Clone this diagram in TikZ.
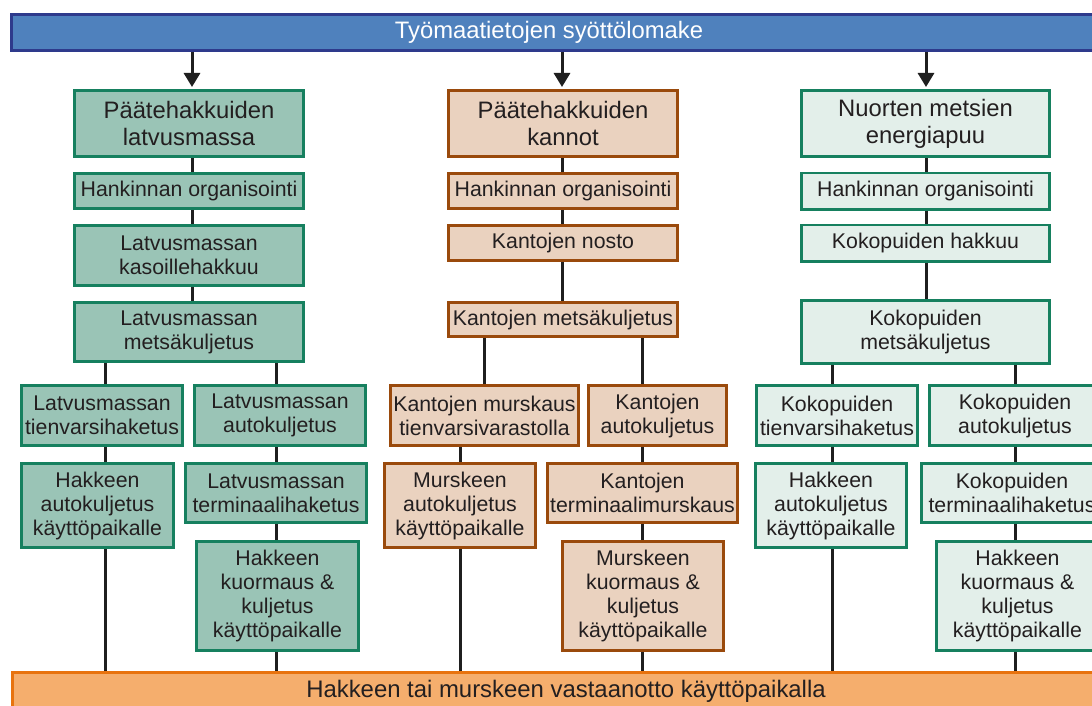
\documentclass[tikz,border=0pt]{standalone}
\usepackage{fontspec}
\setmainfont{Liberation Sans}
\usetikzlibrary{arrows.meta}
\definecolor{tblue}{HTML}{4F81BD}
\definecolor{tblueline}{HTML}{2E3A8C}
\definecolor{gdark}{HTML}{9AC4B6}
\definecolor{gline}{HTML}{16805F}
\definecolor{glight}{HTML}{E3EFEA}
\definecolor{tanfill}{HTML}{EAD2BF}
\definecolor{brownline}{HTML}{9A4A0C}
\definecolor{orfill}{HTML}{F5AE6D}
\definecolor{orline}{HTML}{E8730E}
\definecolor{txt}{HTML}{231F20}
\begin{document}
\begin{tikzpicture}[x=1pt,y=-1pt,
  bx/.style={draw, line width=2.6pt, align=center, inner sep=0pt, text=txt,
    font=\fontsize{21.3}{24}\selectfont},
  sz/.style 2 args={minimum width={#1pt-2.6pt}, minimum height={#2pt-2.6pt}},
  ga/.style={bx, fill=gdark, draw=gline},
  tb/.style={bx, fill=tanfill, draw=brownline},
  gl/.style={bx, fill=glight, draw=gline},
  hd/.style={font=\fontsize{23.8}{27}\selectfont},
  ln/.style={line width=3pt, draw=black!88},
  arr/.style={ln, -{Triangle[length=14pt,width=16pt]}, shorten >=2pt},
  bar/.style={draw, line width=2.6pt, inner sep=0pt}
]
\path[use as bounding box] (0,0) rectangle (1092,706);
\clip (0,0) rectangle (1092,706);
\fill[white] (0,0) rectangle (1092,706);

% bars
\node[bar, fill=tblue, draw=tblueline, text=white, font=\fontsize{23.8}{27}\selectfont,
  minimum width=1087.4pt, minimum height=36.4pt] (top) at (555,32.5)
  {Työmaatietojen syöttölomake\hspace*{12pt}};
\node[bar, fill=orfill, draw=orline, text=txt, font=\fontsize{23.9}{27}\selectfont,
  minimum width=1086.4pt, minimum height=37.4pt] (bot) at (555.5,691)
  {\hspace*{21pt}Hakkeen tai murskeen vastaanotto käyttöpaikalla};

% column 1
\node[ga, hd, sz={232}{69}] (A0) at (189,123.5) {Päätehakkuiden\\latvusmassa};
\node[ga, sz={232}{38}] (A1) at (189,191) {Hankinnan organisointi};
\node[ga, sz={232}{63}] (A2) at (189,255.5) {Latvusmassan\\kasoillehakkuu};
\node[ga, sz={232}{62}] (A3) at (189,332) {Latvusmassan\\metsäkuljetus};
\node[ga, sz={164}{63}] (A4) at (102,415.5) {Latvusmassan\\tienvarsihaketus};
\node[ga, sz={174}{63}] (A5) at (280,415.5) {Latvusmassan\\autokuljetus};
\node[ga, sz={155}{87}] (A6) at (97.5,505.5) {Hakkeen\\autokuljetus\\käyttöpaikalle};
\node[ga, sz={184}{62}] (A7) at (276,493) {Latvusmassan\\terminaalihaketus};
\node[ga, sz={165}{112}] (A8) at (277.5,596) {Hakkeen\\kuormaus \&\\kuljetus\\käyttöpaikalle};

% column 2
\node[tb, hd, sz={232}{69}] (B0) at (563,123.5) {Päätehakkuiden\\kannot};
\node[tb, sz={232}{38}] (B1) at (563,191) {Hankinnan organisointi};
\node[tb, sz={232}{38}] (B2) at (563,243) {Kantojen nosto};
\node[tb, sz={232}{37}] (B3) at (563,319.5) {Kantojen metsäkuljetus};
\node[tb, sz={191}{63}] (B4) at (484.5,415.5) {Kantojen murskaus\\tienvarsivarastolla};
\node[tb, sz={141}{63}] (B5) at (657.5,415.5) {Kantojen\\autokuljetus};
\node[tb, sz={154}{87}] (B6) at (460,505.5) {Murskeen\\autokuljetus\\käyttöpaikalle};
\node[tb, sz={193}{62}] (B7) at (642.5,493) {Kantojen\\terminaalimurskaus};
\node[tb, sz={164}{112}] (B8) at (643,596) {Murskeen\\kuormaus \&\\kuljetus\\käyttöpaikalle};

% column 3
\node[gl, hd, sz={251}{69}] (C0) at (925.5,123.5) {Nuorten metsien\\energiapuu};
\node[gl, sz={251}{39}] (C1) at (925.5,191) {Hankinnan organisointi};
\node[gl, sz={251}{39}] (C2) at (925.5,243) {Kokopuiden hakkuu};
\node[gl, sz={251}{66}] (C3) at (925.5,332) {Kokopuiden\\metsäkuljetus};
\node[gl, sz={164}{63}] (C4) at (837,415.5) {Kokopuiden\\tienvarsihaketus};
\node[gl, sz={174}{63}] (C5) at (1015,415.5) {Kokopuiden\\autokuljetus};
\node[gl, sz={154}{87}] (C6) at (831,505.5) {Hakkeen\\autokuljetus\\käyttöpaikalle};
\node[gl, sz={184}{62}] (C7) at (1012,493) {Kokopuiden\\terminaalihaketus};
\node[gl, sz={165}{112}] (C8) at (1017.5,596) {Hakkeen\\kuormaus \&\\kuljetus\\käyttöpaikalle};

% x positions of connector lines
\coordinate (xA) at (192,0);
\coordinate (xAl) at (105,0);
\coordinate (xAr) at (276,0);
\coordinate (xB) at (562,0);
\coordinate (xBl) at (484.5,0);
\coordinate (xBm) at (460,0);
\coordinate (xBr) at (642,0);
\coordinate (xC) at (926,0);
\coordinate (xCl) at (832,0);
\coordinate (xCr) at (1015,0);

% arrows from the form
\draw[arr] (top.south -| xA) -- (A0.north -| xA);
\draw[arr] (top.south -| xB) -- (B0.north -| xB);
\draw[arr] (top.south -| xC) -- (C0.north -| xC);

% column 1 connectors
\draw[ln] (A0.south -| xA) -- (A1.north -| xA);
\draw[ln] (A1.south -| xA) -- (A2.north -| xA);
\draw[ln] (A2.south -| xA) -- (A3.north -| xA);
\draw[ln] (A3.south -| xAl) -- (A4.north -| xAl);
\draw[ln] (A4.south -| xAl) -- (A6.north -| xAl);
\draw[ln] (A6.south -| xAl) -- (bot.north -| xAl);
\draw[ln] (A3.south -| xAr) -- (A5.north -| xAr);
\draw[ln] (A5.south -| xAr) -- (A7.north -| xAr);
\draw[ln] (A7.south -| xAr) -- (A8.north -| xAr);
\draw[ln] (A8.south -| xAr) -- (bot.north -| xAr);

% column 2 connectors
\draw[ln] (B0.south -| xB) -- (B1.north -| xB);
\draw[ln] (B1.south -| xB) -- (B2.north -| xB);
\draw[ln] (B2.south -| xB) -- (B3.north -| xB);
\draw[ln] (B3.south -| xBl) -- (B4.north -| xBl);
\draw[ln] (B4.south -| xBm) -- (B6.north -| xBm);
\draw[ln] (B6.south -| xBm) -- (bot.north -| xBm);
\draw[ln] (B3.south -| xBr) -- (B5.north -| xBr);
\draw[ln] (B5.south -| xBr) -- (B7.north -| xBr);
\draw[ln] (B7.south -| xBr) -- (B8.north -| xBr);
\draw[ln] (B8.south -| xBr) -- (bot.north -| xBr);

% column 3 connectors
\draw[ln] (C0.south -| xC) -- (C1.north -| xC);
\draw[ln] (C1.south -| xC) -- (C2.north -| xC);
\draw[ln] (C2.south -| xC) -- (C3.north -| xC);
\draw[ln] (C3.south -| xCl) -- (C4.north -| xCl);
\draw[ln] (C4.south -| xCl) -- (C6.north -| xCl);
\draw[ln] (C6.south -| xCl) -- (bot.north -| xCl);
\draw[ln] (C3.south -| xCr) -- (C5.north -| xCr);
\draw[ln] (C5.south -| xCr) -- (C7.north -| xCr);
\draw[ln] (C7.south -| xCr) -- (C8.north -| xCr);
\draw[ln] (C8.south -| xCr) -- (bot.north -| xCr);
\end{tikzpicture}
\end{document}
